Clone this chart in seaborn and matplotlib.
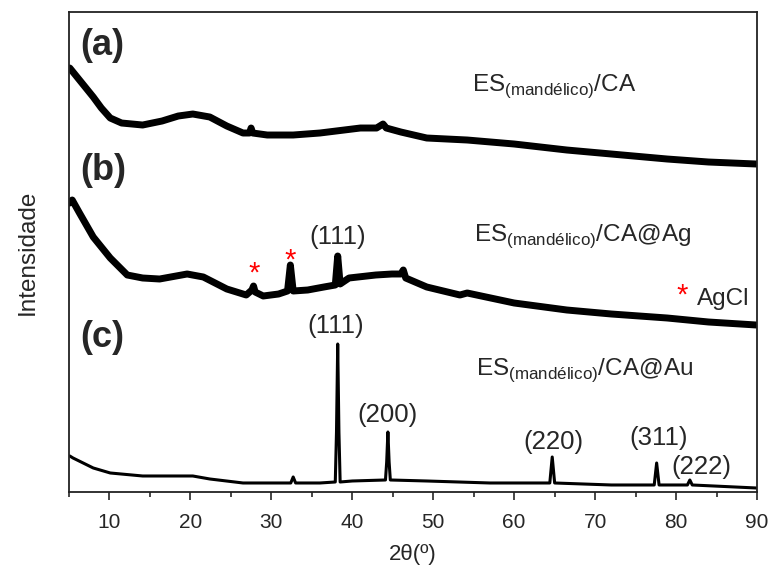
import numpy as np
import pandas as pd
import seaborn as sns
import matplotlib.pyplot as plt

# Difratogramas (intensidade em unidades arbitrarias, ja deslocadas)
ang_a = [5.1, 5.5, 6.5, 8.0, 9.0, 10.1, 11.5, 14.1, 16.5, 18.5, 20.3, 22.4, 24.5, 26.5,
         27.3, 27.5, 27.7, 29.5, 32.7, 36.0, 39.0, 41.0, 43.0, 43.8, 44.2, 46.0, 49.2,
         54.2, 60.0, 66.5, 72.0, 78.9, 84.0, 89.9]
int_a = [424, 420, 410, 395, 384, 374, 369, 367, 371, 376, 378, 375, 366, 359,
         359, 364, 359, 357, 357, 359, 362, 364, 364, 368, 364, 360, 354,
         352, 348, 342, 338, 333, 330, 328]

ang_b = [5.1, 5.4, 6.3, 8.0, 10.1, 12.2, 14.1, 16.2, 19.6, 21.6, 24.5, 26.9, 27.6, 27.8,
         28.0, 29.0, 30.9, 32.0, 32.35, 32.7, 34.5, 36.5, 37.9, 38.2, 38.5, 39.6, 42.9,
         44.9, 46.0, 46.3, 46.6, 49.2, 53.3, 54.2, 60.0, 66.5, 72.0, 78.9, 84.0, 89.9]
int_b = [289, 292, 279, 255, 234, 217, 214, 213, 218, 215, 203, 197, 202, 206,
         200, 196, 198, 201, 227, 201, 202, 205, 207, 236, 208, 214, 217,
         218, 218, 222, 214, 205, 197, 199, 189, 182, 178, 174, 170, 167]

ang_c = [5.1, 5.5, 8.0, 10.1, 14.1, 20.3, 22.4, 26.5, 32.4, 32.7, 33.0, 36.0,
         37.9, 38.05, 38.2, 38.35, 38.5, 40.0, 44.1, 44.25, 44.4, 44.55, 44.7, 49.2, 57.0,
         64.4, 64.7, 65.0, 72.0, 77.3, 77.6, 77.9, 81.4, 81.7, 82.0, 89.9]
int_c = [36, 34, 24, 19, 16, 16, 13, 9, 9, 15, 9, 9,
         10, 60, 148, 60, 10, 11, 12, 30, 60, 30, 12, 11, 9,
         9, 35, 9, 7, 7, 29, 7, 7, 12, 7, 4]

amostras = ["ES$_{\\mathrm{(mandélico)}}$/CA",
            "ES$_{\\mathrm{(mandélico)}}$/CA@Ag",
            "ES$_{\\mathrm{(mandélico)}}$/CA@Au"]

sns.set_style("ticks")
plt.rcParams["font.family"] = ["Liberation Sans", "DejaVu Sans"]
plt.rcParams["mathtext.fontset"] = "custom"
plt.rcParams["mathtext.rm"] = "Liberation Sans"

fig = plt.figure(figsize=(7.68, 5.67), dpi=100)
ax = fig.add_axes([0.0898, 0.1323, 0.8959, 0.8465])

sns.lineplot(x=ang_a, y=int_a, color="black", lw=5, sort=False, estimator=None, ax=ax)
sns.lineplot(x=ang_b, y=int_b, color="black", lw=5, sort=False, estimator=None, ax=ax)
sns.lineplot(x=ang_c, y=int_c, color="black", lw=2.2, sort=False, estimator=None, ax=ax)

ax.set_xlim(5, 90)
ax.set_ylim(0, 480)
ax.set_yticks([])
ax.set_xticks(range(10, 91, 10))
ax.set_xticks(range(5, 91, 5), minor=True)
ax.tick_params(axis="x", which="major", direction="out", length=6, width=1.2,
               labelsize=15, pad=9)
ax.tick_params(axis="x", which="minor", direction="out", length=3.5, width=1.2)
for lab in ax.get_xticklabels():
    lab.set_family(["Liberation Sans Narrow", "Liberation Sans"])
for s in ax.spines.values():
    s.set_linewidth(1.3)
    s.set_color("#222222")

ax.set_xlabel("2θ(º)", fontsize=16, family=["Liberation Sans Narrow", "Liberation Sans"],
              labelpad=9)
ax.set_ylabel("Intensidade", fontsize=17.5, labelpad=22)

# letras dos paineis
for lbl, yy in [("(a)", 447), ("(b)", 322), ("(c)", 154)]:
    ax.text(6.4, yy, lbl, fontsize=26, fontweight="bold", va="center", ha="left")

# nomes das amostras
ax.text(54.8, 401, amostras[0], fontsize=17.5, va="baseline", ha="left")
ax.text(55.0, 251, amostras[1], fontsize=17.5, va="baseline", ha="left")
ax.text(55.3, 117, amostras[2], fontsize=17.5, va="baseline", ha="left")

# picos
ax.text(38.2, 255, "(111)", fontsize=18.5, ha="center", va="center")
ax.text(38.0, 166, "(111)", fontsize=18.5, ha="center", va="center")
ax.text(44.3, 77, "(200)", fontsize=18.5, ha="center", va="center")
ax.text(64.8, 50, "(220)", fontsize=18.5, ha="center", va="center")
ax.text(77.8, 54, "(311)", fontsize=18.5, ha="center", va="center")
ax.text(83.1, 25, "(222)", fontsize=18.5, ha="center", va="center")

# AgCl
ax.text(27.9, 218, "*", color="red", fontsize=21, ha="center", va="center")
ax.text(32.3, 231, "*", color="red", fontsize=21, ha="center", va="center")
ax.text(80.8, 196, "*", color="red", fontsize=21, ha="center", va="center")
ax.text(82.6, 193, "AgCl", fontsize=17.5, ha="left", va="center")

fig.savefig("out.png", dpi=100)
